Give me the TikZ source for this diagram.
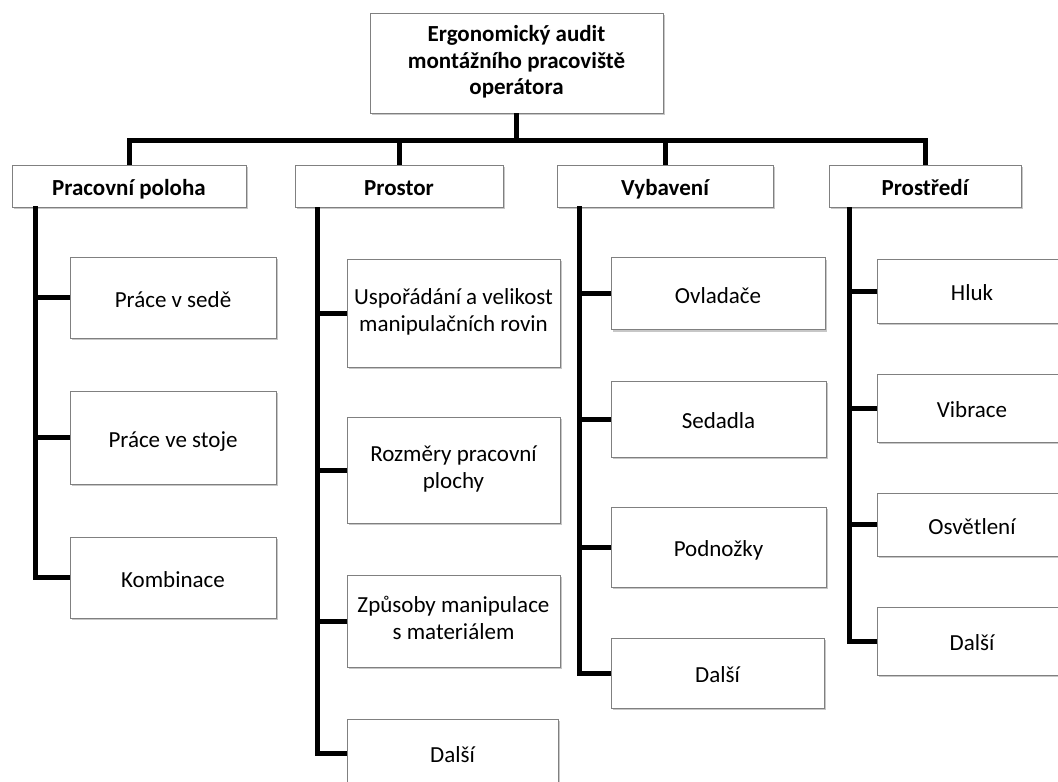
\documentclass[tikz,border=0pt]{standalone}
\usepackage{fontspec}
\setmainfont{Carlito}
\usetikzlibrary{shadows}
\definecolor{boxline}{HTML}{808080}
\tikzset{
  box/.style={draw=boxline, line width=0.9pt, fill=white, inner sep=0pt, align=center,
    font=\fontsize{23}{26.5}\selectfont,
    execute at begin node={\rule{0pt}{25pt}},
    execute at end node={\rule[-6pt]{0pt}{6pt}},
    drop shadow={shadow xshift=1.5pt, shadow yshift=-2pt, fill=black, opacity=0.22}},
  catbox/.style={box, font=\fontsize{23}{26.5}\selectfont\bfseries},
  conn/.style={line width=5pt, line join=miter, black},
}
\begin{document}
\begin{tikzpicture}[x=1pt,y=-1pt]
\useasboundingbox (0,0) rectangle (1058,782);
\clip (0,0) rectangle (1058,782);
% top
\node[catbox, minimum width=293pt, minimum height=100pt] (top) at (516.5,63) {Ergonomický audit\\montážního pracoviště\\operátora};
% categories
\node[catbox, minimum width=234pt, minimum height=42pt] (c1) at (129,186) {Pracovní poloha};
\node[catbox, minimum width=208pt, minimum height=42pt] (c2) at (399,186) {Prostor};
\node[catbox, minimum width=216pt, minimum height=42pt] (c3) at (665,186) {Vybavení};
\node[catbox, minimum width=192pt, minimum height=42pt] (c4) at (925,186) {Prostředí};
% column 1
\node[box, minimum width=206pt, minimum height=81pt] (a1) at (173,297.5) {Práce v sedě};
\node[box, minimum width=206pt, minimum height=93pt] (a2) at (173,437.5) {Práce ve stoje};
\node[box, minimum width=206pt, minimum height=81pt] (a3) at (173,577.5) {Kombinace};
% column 2
\node[box, minimum width=213pt, minimum height=108pt] (b1) at (453.5,313) {Uspořádání a velikost\\manipulačních rovin};
\node[box, minimum width=213pt, minimum height=106pt] (b2) at (453.5,470) {Rozměry pracovní\\plochy};
\node[box, minimum width=213pt, minimum height=92pt] (b3) at (453.5,621) {Způsoby manipulace\\s materiálem};
\node[box, minimum width=211pt, minimum height=68pt] (b4) at (452.5,753) {Další};
% column 3
\node[box, minimum width=214pt, minimum height=72pt] (v1) at (718,293.5) {Ovladače};
\node[box, minimum width=215pt, minimum height=76pt] (v2) at (718.5,419) {Sedadla};
\node[box, minimum width=215pt, minimum height=80pt] (v3) at (718.5,547) {Podnožky};
\node[box, minimum width=213pt, minimum height=70pt] (v4) at (717.5,673) {Další};
% column 4
\node[box, minimum width=190pt, minimum height=64pt] (p1) at (972,291) {Hluk};
\node[box, minimum width=190pt, minimum height=68pt] (p2) at (972,408) {Vibrace};
\node[box, minimum width=190pt, minimum height=63pt] (p3) at (972,524.5) {Osvětlení};
\node[box, minimum width=190pt, minimum height=68pt] (p4) at (972,641) {Další};
% connectors top -> categories
\coordinate (hb) at (516.5,140.5);
\draw[conn] (top.south) -- (hb);
\draw[conn] (c1.north) |- (hb);
\draw[conn] (c2.north) |- (hb);
\draw[conn] (c3.north) |- (hb);
\draw[conn] (c4.north) |- (hb);
% spines
\coordinate (s1) at (35,206);
\coordinate (s2) at (317,207);
\coordinate (s3) at (579,206);
\coordinate (s4) at (849,207);
\foreach \n in {a1,a2,a3} \draw[conn] (s1) |- (\n.west);
\foreach \n in {b1,b2,b3,b4} \draw[conn] (s2) |- (\n.west);
\foreach \n in {v1,v2,v3,v4} \draw[conn] (s3) |- (\n.west);
\foreach \n in {p1,p2,p3,p4} \draw[conn] (s4) |- (\n.west);
\end{tikzpicture}
\end{document}
